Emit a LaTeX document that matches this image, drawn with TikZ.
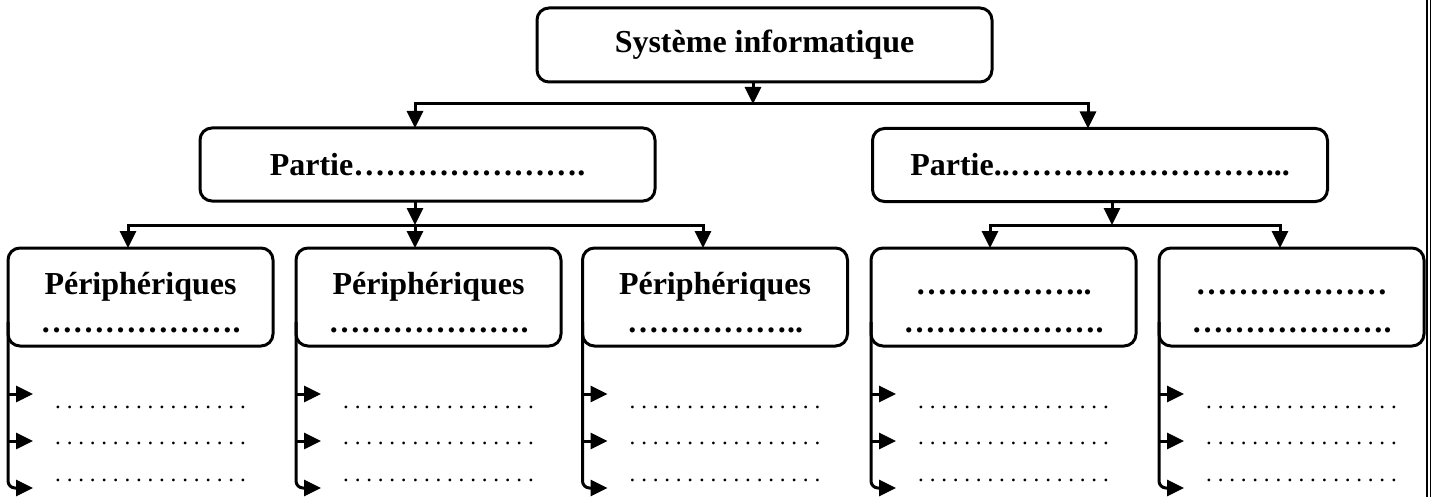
\documentclass[tikz,border=0pt]{standalone}
\usepackage{fontspec}
\setmainfont{Liberation Serif}
\usetikzlibrary{arrows.meta,calc}
\newcommand{\myel}{…}
\newcommand{\myleader}{. . . . . . . . . . . . . . . . .}
\newcommand{\mytopstrut}{\rule{0pt}{34pt}}
\frenchspacing
\tikzset{
  >={Triangle[length=17pt,width=16pt]},
  box/.style={draw, line width=3pt, rounded corners=12pt, inner sep=0pt, outer sep=0pt,
    align=center, font=\bfseries\fontsize{32}{38}\selectfont},
  topbox/.style={box, minimum width=455pt, minimum height=74pt},
  partbox/.style={box, minimum width=455pt, minimum height=73pt},
  childbox/.style={box, minimum width=265pt, minimum height=98pt},
  wire/.style={line width=3pt},
  conn/.style={wire, ->},
  leader/.style={inner sep=0pt, anchor=base west, font=\fontsize{23.1}{28}\selectfont}
}
\begin{document}
\begin{tikzpicture}[x=1pt, y=-1pt]
\useasboundingbox (0,0) rectangle (1431,497);

% boxes
\node[topbox] (top) at (764.5,45) {Système informatique};
\node[partbox] (p1) at (427.5,164.5) {Partie\myel\myel\myel\myel\myel\myel\myel.};
\node[partbox] (p2) at (1100,165) {Partie..\myel\myel\myel\myel\myel\myel\myel\myel...};
\node[childbox] (c1) at (140.5,297) {\mytopstrut Périphériques\\\myel\myel\myel\myel\myel\myel.};
\node[childbox] (c2) at (428.5,297) {\mytopstrut Périphériques\\\myel\myel\myel\myel\myel\myel.};
\node[childbox] (c3) at (715,297) {\mytopstrut Périphériques\\\myel\myel\myel\myel\myel..};
\node[childbox] (c4) at (1003.5,297) {\mytopstrut\myel\myel\myel\myel\myel..\\\myel\myel\myel\myel\myel\myel.};
\node[childbox] (c5) at (1291.5,297) {\mytopstrut\myel\myel\myel\myel\myel\myel\\\myel\myel\myel\myel\myel\myel.};

% first level
\coordinate (b0) at (753,104);
\coordinate (b1) at (415,104);
\coordinate (b2) at (1088,104);
\draw[conn] (top.south -| b0) -- (b0);
\draw[wire, <->] (b1 |- p1.north) -- (b1) -- (b2) -- (b2 |- p2.north);

% second level, left
\coordinate (l0) at (415,225);
\coordinate (l1) at (128,225);
\coordinate (l3) at (703,225);
\draw[conn] (p1.south -| l0) -- (l0);
\draw[wire, <->] (l1 |- c1.north) -- (l1) -- (l3) -- (l3 |- c3.north);
\draw[conn] (l0) -- (l0 |- c2.north);

% second level, right
\coordinate (r0) at (1112,225);
\coordinate (r1) at (990,225);
\coordinate (r2) at (1280,225);
\draw[conn] (p2.south -| r0) -- (r0);
\draw[wire, <->] (r1 |- c4.north) -- (r1) -- (r2) -- (r2 |- c5.north);

% lists under each box
\foreach \c in {c1,c2,c3,c4,c5} {
  \draw[conn, rounded corners=7pt] ([yshift=24pt]\c.south west) -- ++(0,166) -- ++(25,0);
  \draw[conn] ([yshift=-48pt]\c.south west) -- ++(25,0);
  \draw[conn] ([yshift=-95pt]\c.south west) -- ++(25,0);
  \node[leader] (\c-a) at ([xshift=47pt,yshift=-62pt]\c.south west) {\myleader};
  \node[leader] (\c-b) at ([xshift=47pt,yshift=-98pt]\c.south west) {\myleader};
  \node[leader] (\c-c) at ([xshift=47pt,yshift=-135pt]\c.south west) {\myleader};
}

% page border on the right
\draw[line width=2.4pt] (1427,0) -- (1427,497);
\draw[line width=1.2pt] (1430.4,0) -- (1430.4,497);
\end{tikzpicture}
\end{document}
